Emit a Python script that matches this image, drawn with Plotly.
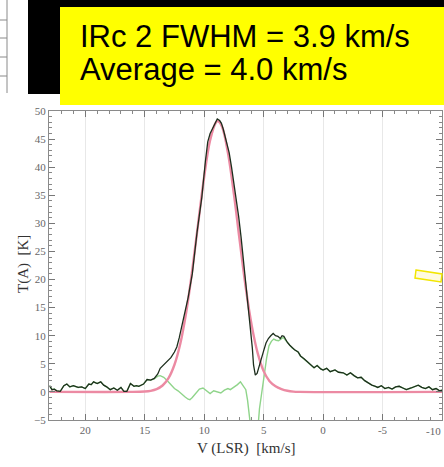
import plotly.graph_objects as go

# ---------------- data ----------------
v_obs = [23.0, 22.8, 22.6, 22.4, 22.1, 21.8, 21.55, 21.3, 21.0, 20.8, 20.6, 20.3, 20.0,
         19.7, 19.5, 19.3, 19.0, 18.7, 18.45, 18.2, 17.9, 17.6, 17.3, 17.0, 16.75, 16.5,
         16.2, 15.9, 15.7, 15.5, 15.3, 15.1, 14.8, 14.5, 14.2, 13.9, 13.7, 13.4, 13.1,
         12.8, 12.5, 12.3, 12.1, 11.8, 11.6, 11.35, 11.0, 10.8, 10.6, 10.4, 10.2, 9.9,
         9.7, 9.5, 9.3, 9.1, 8.9, 8.7, 8.55, 8.4, 8.2, 7.9, 7.7, 7.5, 7.3, 7.1, 6.9, 6.7,
         6.5, 6.3, 6.1, 5.95, 5.85, 5.7, 5.55, 5.4, 5.25, 5.0, 4.8, 4.6, 4.4, 4.2, 4.0,
         3.8, 3.6, 3.45, 3.3, 3.15, 3.0, 2.8, 2.6, 2.4, 2.1, 1.9, 1.6, 1.3, 1.0, 0.76,
         0.5, 0.2, 0.0, -0.3, -0.6, -1.0, -1.3, -1.7, -2.0, -2.3, -2.6, -2.9, -3.2, -3.5,
         -3.8, -4.1, -4.4, -4.6, -4.9, -5.2, -5.5, -5.8, -6.1, -6.4, -6.7, -7.0, -7.4,
         -7.7, -8.0, -8.3, -8.6, -8.9, -9.2, -9.5, -9.8, -10.0]
t_obs = [1.1, 0.4, 0.5, 0.2, 0.1, 1.1, 1.4, 0.9, 1.1, 1.0, 0.8, 0.9, 0.6,
         1.4, 1.3, 1.8, 1.5, 1.8, 1.2, 0.9, 0.4, 0.7, 0.3, 0.8, 0.1, 0.1,
         1.5, 1.0, 1.1, 1.0, 1.2, 1.4, 2.2, 2.1, 2.4, 3.2, 4.2, 4.8, 5.4,
         6.1, 7.1, 8.0, 9.6, 12.3, 14.3, 16.8, 21.0, 25.0, 28.4, 31.5, 34.6, 41.0,
         44.5, 46.0, 46.9, 48.0, 48.6, 48.3, 47.8, 46.8, 45.2, 42.6, 40.0, 37.3, 34.5, 31.2, 27.6, 23.6,
         19.2, 15.0, 11.8, 7.8, 4.8, 3.0, 3.3, 4.5, 5.7, 7.3, 8.7, 9.5, 10.0, 10.4, 10.0,
         9.9, 9.5, 10.0, 9.9, 9.3, 8.8, 8.3, 7.8, 7.5, 7.1, 6.4, 5.9, 5.3, 4.7, 4.3,
         4.7, 4.1, 3.9, 4.2, 3.6, 3.9, 3.5, 3.4, 3.0, 3.4, 2.9, 2.5, 2.6, 2.0,
         1.6, 1.2, 1.0, 0.8, 1.1, 0.6, 0.8, 0.5, 0.9, 1.0, 0.7, 0.4, 0.7,
         0.9, 1.2, 0.8, 0.6, 0.9, 0.4, 0.6, 0.2, 0.3]

# Gaussian fit curve (pink)
v_fit = [23.0, 16.0, 15.0, 14.5, 14.0, 13.5, 13.0, 12.5, 12.0, 11.5, 11.0, 10.5, 10.0,
         9.5, 9.0, 8.85, 8.5, 8.0, 7.5, 7.0, 6.5, 6.0, 5.5, 5.0, 4.5, 4.0, 3.5, 3.0,
         2.5, 2.0, -10.0]
t_fit = [0.0, 0.0, 0.07, 0.19, 0.49, 1.14, 2.45, 4.83, 8.66, 14.3, 21.7, 30.1, 38.3,
         44.8, 48.0, 48.2, 47.2, 42.5, 35.2, 26.7, 18.5, 11.8, 6.9, 3.7, 1.9, 1.0, 0.5, 0.2,
         0.05, 0.0, 0.0]

# Residual (green) in the line region; outside it the residual equals the observed spectrum
v_res_mid = [14.2, 13.9, 13.7, 13.4, 13.1, 12.8, 12.5, 12.2, 11.9, 11.6, 11.35, 11.2, 11.0,
             10.7, 10.4, 10.1, 9.8, 9.5, 9.2, 8.9, 8.6, 8.3, 8.0, 7.8, 7.5, 7.2, 6.95,
             6.75, 6.5, 6.35, 6.2, 6.05, 5.8, 5.5, 5.35, 5.15, 4.95, 4.75, 4.55, 4.35,
             4.15, 3.95, 3.75, 3.55, 3.35, 3.15]
t_res_mid = [2.3, 2.8, 2.9, 2.6, 2.0, 1.2, 0.6, 0.2, -0.4, -0.9, -1.3, -1.4, -1.0,
             -0.3, 0.5, 0.7, 0.2, -0.3, 0.2, 0.0, -0.2, 0.3, 0.6, 0.4, 0.8, 1.3, 1.8,
             1.2, 0.4, -1.5, -4.5, -7.0, -8.0, -7.0, -3.0, 0.5, 3.0, 6.0, 8.2, 9.0,
             9.4, 9.2, 9.1, 9.4, 9.7, 9.2]

x_ticks = [20, 15, 10, 5, 0, -5]
x_edge_tick = -10
y_ticks = [-5, 0, 5, 10, 15, 20, 25, 30, 35, 40, 45, 50]

title_line1 = "IRc 2 FWHM = 3.9 km/s"
title_line2 = "Average = 4.0 km/s"

# assemble residual
v_res = [v for v in v_obs if v >= 14.5] + v_res_mid + [v for v in v_obs if v <= 3.0]
t_res = ([t for v, t in zip(v_obs, t_obs) if v >= 14.5] + t_res_mid +
         [t for v, t in zip(v_obs, t_obs) if v <= 3.0])

# ---------------- figure ----------------
W, H = 444, 467
L, R, T, B = 49, 2, 111, 47
PW, PH = W - L - R, H - T - B


def px(x):
    return (x - L) / PW


def py(y):
    return (H - B - y) / PH


fig = go.Figure()
fig.add_trace(go.Scatter(x=v_res, y=t_res, mode="lines",
                         line=dict(color="#8fd48a", width=1.4), hoverinfo="skip"))
fig.add_trace(go.Scatter(x=v_fit, y=t_fit, mode="lines", line_shape="spline",
                         line=dict(color="#ec8aa3", width=2.4), hoverinfo="skip"))
fig.add_trace(go.Scatter(x=v_obs, y=t_obs, mode="lines",
                         line=dict(color="#1d2e1d", width=1.3), hoverinfo="skip"))

axis_common = dict(showline=True, linecolor="#8a8a8a", linewidth=1, mirror="ticks",
                   ticks="inside", ticklen=6, tickcolor="#777", zeroline=False,
                   tickfont=dict(family="Liberation Serif", size=11, color="#666"))

fig.update_xaxes(range=[23.05, -10], tickvals=x_ticks + [x_edge_tick],
                 ticktext=[str(v) for v in x_ticks] + [""], showgrid=True,
                 gridcolor="#e8e8e8", gridwidth=1,
                 minor=dict(dtick=1, ticks="inside", ticklen=3, tickcolor="#888",
                            showgrid=False),
                 **axis_common)
fig.update_yaxes(range=[-5, 50], tickvals=y_ticks, showgrid=False,
                 minor=dict(dtick=1, ticks="inside", ticklen=3, tickcolor="#888",
                            showgrid=False),
                 **axis_common)

shapes = []
# fragment of a neighbouring chart on the left edge
shapes.append(dict(type="line", xref="paper", yref="paper", x0=px(7), x1=px(7),
                   y0=py(0), y1=py(93), line=dict(color="#8a8a8a", width=1)))
for yy in [20, 38, 57, 76]:
    shapes.append(dict(type="line", xref="paper", yref="paper", x0=px(0), x1=px(7),
                       y0=py(yy), y1=py(yy), line=dict(color="#8a8a8a", width=1)))
# black and yellow boxes
shapes.append(dict(type="rect", xref="paper", yref="paper", x0=px(28), x1=px(445),
                   y0=py(94), y1=py(-1), fillcolor="black", line=dict(width=0)))
shapes.append(dict(type="rect", xref="paper", yref="paper", x0=px(60), x1=px(445),
                   y0=py(105), y1=py(7), fillcolor="#ffff00", line=dict(width=0)))
# small tilted yellow marker at the right edge
path = "M {} {} L {} {} L {} {} L {} {} Z".format(px(416), py(270), px(442), py(274),
                                                  px(441), py(282), px(415), py(278))
shapes.append(dict(type="path", xref="paper", yref="paper", path=path,
                   fillcolor="#fffbe0", line=dict(color="#f2e600", width=1.5)))

annotations = [
    dict(text=title_line1, xref="paper", yref="paper", x=px(78), y=py(37),
         xanchor="left", yanchor="middle", showarrow=False,
         font=dict(family="Liberation Sans", size=31, color="black")),
    dict(text=title_line2, xref="paper", yref="paper", x=px(78), y=py(70),
         xanchor="left", yanchor="middle", showarrow=False,
         font=dict(family="Liberation Sans", size=31, color="black")),
    dict(text="T(A)  [K]", xref="paper", yref="paper", x=px(23), y=py(264),
         xanchor="center", yanchor="middle", textangle=-90, showarrow=False,
         font=dict(family="Liberation Serif", size=15, color="#333")),
    dict(text="V (LSR)  [km/s]", xref="paper", yref="paper", x=px(246), y=py(448),
         xanchor="center", yanchor="middle", showarrow=False,
         font=dict(family="Liberation Serif", size=15, color="#333")),
    # tick label at the right edge, kept inside the picture
    dict(text=str(x_edge_tick), xref="paper", yref="paper", x=px(443), y=py(431),
         xanchor="right", yanchor="middle", showarrow=False,
         font=dict(family="Liberation Serif", size=11, color="#666")),
]

fig.update_layout(width=W, height=H, margin=dict(l=L, r=R, t=T, b=B),
                  paper_bgcolor="white", plot_bgcolor="white", showlegend=False,
                  shapes=shapes, annotations=annotations)

fig.write_html("out.html")
